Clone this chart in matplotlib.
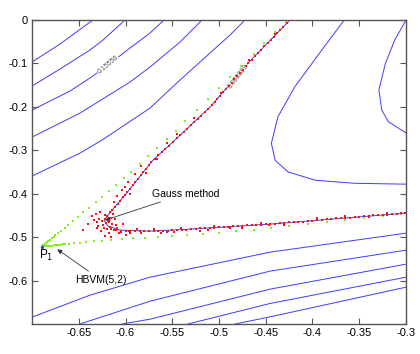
import matplotlib
matplotlib.use("Agg")
import matplotlib.pyplot as plt

plt.rcParams['font.family'] = ['Liberation Sans Narrow', 'Liberation Sans', 'DejaVu Sans']
plt.rcParams['axes.unicode_minus'] = False

# level curves
c1_x = [-0.700, -0.6701, -0.6348]
c1_y = [-0.0968, -0.0553, 0.0]
c2_x = [-0.700, -0.6701, -0.638, -0.6241, -0.6005]
c2_y = [-0.1521, -0.1129, -0.0691, -0.0461, 0.0]
c3_x = [-0.700, -0.6594, -0.638, -0.6187, -0.5952, -0.5738, -0.5588]
c3_y = [-0.2074, -0.1636, -0.1336, -0.1037, -0.0645, -0.030, 0.0]
c4_x = [-0.700, -0.6487, -0.5952, -0.5738, -0.5417, -0.5182]
c4_y = [-0.2696, -0.2143, -0.1429, -0.1083, -0.0507, 0.0]
c5_x = [-0.700, -0.6487, -0.6251, -0.5738, -0.5417, -0.5096, -0.4882, -0.4722]
c5_y = [-0.3594, -0.3065, -0.2765, -0.2028, -0.1382, -0.076, -0.0346, 0.0]

sep_x = [-0.4241, -0.4668, -0.5096, -0.5471, -0.5706, -0.5877, -0.6005, -0.6144,
         -0.6230, -0.6187, -0.6059, -0.5738, -0.5310, -0.4455, -0.300]
sep_y = [0.0, -0.0945, -0.2005, -0.2765, -0.3226, -0.3687, -0.4032, -0.4378,
         -0.4608, -0.4747, -0.4839, -0.4862, -0.4816, -0.4700, -0.4447]

a_x = [-0.366, -0.390, -0.419, -0.437, -0.444, -0.440, -0.426, -0.397, -0.355, -0.300]
a_y = [0.0, -0.069, -0.154, -0.223, -0.284, -0.323, -0.350, -0.369, -0.376, -0.378]
b_x = [-0.300, -0.312, -0.322, -0.329, -0.326, -0.319, -0.300]
b_y = [0.0, -0.046, -0.100, -0.161, -0.207, -0.234, -0.260]

l1_x = [-0.700, -0.638, -0.5738, -0.4455, -0.300]
l1_y = [-0.6843, -0.6336, -0.5922, -0.5346, -0.4908]
l2_x = [-0.6487, -0.5738, -0.4455, -0.300]
l2_y = [-0.700, -0.6475, -0.5783, -0.530]
l3_x = [-0.6037, -0.5738, -0.4455, -0.300]
l3_y = [-0.700, -0.6889, -0.6198, -0.5622]
l4_x = [-0.5332, -0.4455, -0.300]
l4_y = [-0.700, -0.6528, -0.5922]
l5_x = [-0.4829, -0.4455, -0.300]
l5_y = [-0.700, -0.6836, -0.6152]

# HBVM(5,2) points
hb_x = [-0.689, -0.688, -0.687, -0.686, -0.685, -0.684, -0.683, -0.682, -0.681, -0.679,
        -0.677, -0.675, -0.672, -0.669, -0.665, -0.661, -0.656, -0.651, -0.645, -0.639,
        -0.632, -0.625, -0.618, -0.610, -0.602, -0.594, -0.585, -0.576, -0.566, -0.556,
        -0.546, -0.536, -0.524, -0.512, -0.500, -0.488, -0.476, -0.463, -0.452, -0.440,
        -0.428,
        -0.687, -0.685, -0.683, -0.681, -0.679, -0.677, -0.675, -0.673, -0.671, -0.669,
        -0.667, -0.665, -0.660, -0.655, -0.649, -0.642, -0.634, -0.625, -0.615, -0.604,
        -0.592, -0.579, -0.565, -0.550, -0.534, -0.517, -0.500, -0.482, -0.463, -0.444,
        -0.425, -0.405, -0.385, -0.365, -0.345, -0.325, -0.305]
hb_y = [-0.521, -0.519, -0.517, -0.516, -0.514, -0.512, -0.510, -0.509, -0.507, -0.503,
        -0.500, -0.496, -0.491, -0.486, -0.479, -0.472, -0.463, -0.454, -0.443, -0.432,
        -0.420, -0.407, -0.394, -0.379, -0.364, -0.349, -0.332, -0.313, -0.294, -0.275,
        -0.255, -0.233, -0.208, -0.183, -0.157, -0.131, -0.105, -0.078, -0.052, -0.027,
        -0.004,
        -0.5215, -0.521, -0.5205, -0.520, -0.5195, -0.519, -0.5185, -0.518, -0.5175, -0.517,
        -0.5165, -0.516, -0.515, -0.514, -0.513, -0.512, -0.510, -0.508, -0.506, -0.505,
        -0.503, -0.501, -0.499, -0.497, -0.495, -0.493, -0.490, -0.487, -0.483, -0.479,
        -0.475, -0.470, -0.465, -0.461, -0.456, -0.451, -0.446]

# Gauss method points: upper branch
gu_x = [-0.4245, -0.4278, -0.4312, -0.4345, -0.4380, -0.4413, -0.4447, -0.4480, -0.4515,
        -0.4548, -0.4582, -0.4616, -0.4650, -0.4685, -0.4715, -0.4746, -0.4776, -0.4806,
        -0.4836, -0.4866, -0.4896, -0.4927, -0.4957, -0.4987, -0.5017, -0.5048, -0.5078,
        -0.5118, -0.5155, -0.5192, -0.5229, -0.5266, -0.5303, -0.5340, -0.5377, -0.5414,
        -0.5451, -0.5497, -0.5536, -0.5574, -0.5612, -0.5650, -0.5688, -0.5725, -0.5753,
        -0.5781, -0.5809, -0.5837, -0.5865, -0.5897, -0.5925, -0.5953, -0.5981, -0.6005,
        -0.6025, -0.6055, -0.6085, -0.6115, -0.6144, -0.6165, -0.6195, -0.6220,
        -0.583, -0.590, -0.597, -0.604, -0.609, -0.612, -0.5265, -0.545, -0.556, -0.498,
        -0.468, -0.440, -0.578, -0.595, -0.566, -0.601]
gu_y = [-0.001, -0.008, -0.016, -0.023, -0.031, -0.038, -0.046, -0.053, -0.061,
        -0.068, -0.076, -0.083, -0.091, -0.099, -0.106, -0.114, -0.121, -0.129,
        -0.136, -0.144, -0.151, -0.159, -0.166, -0.174, -0.181, -0.189, -0.196,
        -0.205, -0.212, -0.220, -0.227, -0.235, -0.242, -0.250, -0.257, -0.265,
        -0.272, -0.282, -0.289, -0.297, -0.304, -0.312, -0.319, -0.328, -0.335,
        -0.343, -0.350, -0.358, -0.365, -0.374, -0.381, -0.389, -0.396, -0.403,
        -0.408, -0.416, -0.423, -0.431, -0.438, -0.443, -0.451, -0.458,
        -0.337, -0.355, -0.372, -0.392, -0.405, -0.418, -0.226, -0.262, -0.283, -0.168,
        -0.093, -0.033, -0.352, -0.400, -0.320, -0.385]

# Gauss method points: scatter round the corner
gc_x = [-0.636, -0.632, -0.628, -0.630, -0.625, -0.621, -0.619, -0.624, -0.617, -0.614,
        -0.620, -0.626, -0.612, -0.618, -0.609, -0.622, -0.615, -0.607, -0.631, -0.640,
        -0.645, -0.611, -0.603, -0.616, -0.627, -0.622, -0.613, -0.605, -0.600, -0.596,
        -0.634, -0.629, -0.623, -0.618, -0.610]
gc_y = [-0.452, -0.447, -0.458, -0.466, -0.463, -0.468, -0.462, -0.472, -0.476, -0.470,
        -0.481, -0.486, -0.484, -0.490, -0.479, -0.497, -0.499, -0.491, -0.478, -0.470,
        -0.483, -0.458, -0.470, -0.455, -0.441, -0.450, -0.446, -0.488, -0.495, -0.485,
        -0.461, -0.474, -0.479, -0.466, -0.473]

# Gauss method points: lower branch
gl_x = [-0.615, -0.610, -0.605, -0.600, -0.595, -0.590, -0.585, -0.580, -0.575, -0.570,
        -0.565, -0.560, -0.555, -0.550, -0.545, -0.540, -0.535, -0.530, -0.525, -0.520,
        -0.515, -0.510, -0.505, -0.500, -0.495, -0.490, -0.485, -0.480, -0.475, -0.470,
        -0.465, -0.460, -0.455, -0.450, -0.445, -0.440, -0.435, -0.430, -0.425, -0.420,
        -0.415, -0.410, -0.405, -0.400, -0.395, -0.390, -0.385, -0.380, -0.375, -0.370,
        -0.365, -0.360, -0.355, -0.350, -0.345, -0.340, -0.335, -0.330, -0.325, -0.320,
        -0.315, -0.310, -0.305, -0.301,
        -0.595, -0.583, -0.570, -0.556, -0.541, -0.520, -0.505, -0.475, -0.455, -0.430,
        -0.395, -0.365, -0.340, -0.320, -0.588, -0.562, -0.548, -0.512, -0.488, -0.447]
gl_y = [-0.482, -0.484, -0.485, -0.486, -0.486, -0.487, -0.486, -0.487, -0.486, -0.486,
        -0.485, -0.486, -0.485, -0.484, -0.484, -0.483, -0.483, -0.481, -0.481, -0.480,
        -0.479, -0.479, -0.478, -0.477, -0.477, -0.476, -0.475, -0.475, -0.474, -0.473,
        -0.473, -0.472, -0.471, -0.470, -0.470, -0.469, -0.468, -0.467, -0.466, -0.465,
        -0.464, -0.464, -0.463, -0.462, -0.461, -0.460, -0.459, -0.458, -0.457, -0.456,
        -0.456, -0.455, -0.454, -0.453, -0.452, -0.451, -0.450, -0.449, -0.448, -0.448,
        -0.447, -0.446, -0.445, -0.444,
        -0.491, -0.490, -0.482, -0.489, -0.480, -0.485, -0.474, -0.479, -0.468, -0.471,
        -0.457, -0.452, -0.454, -0.445, -0.481, -0.490, -0.488, -0.484, -0.480, -0.473]

p1 = (-0.6896, -0.5223)

xticks = [-0.65, -0.6, -0.55, -0.5, -0.45, -0.4, -0.35, -0.3]
xticklabels = ['-0.65', '-0.6', '-0.55', '-0.5', '-0.45', '-0.4', '-0.35', '-0.3']
yticks = [0, -0.1, -0.2, -0.3, -0.4, -0.5, -0.6]
yticklabels = ['0', '-0.1', '-0.2', '-0.3', '-0.4', '-0.5', '-0.6']

fig = plt.figure(figsize=(4.2, 3.54), dpi=100)
ax = fig.add_axes([32/420, 30/354, 374/420, 304/354])

blue = '#3c3cff'
for xs, ys in [(c1_x, c1_y), (c2_x, c2_y), (c3_x, c3_y), (c4_x, c4_y), (c5_x, c5_y),
               (sep_x, sep_y), (a_x, a_y), (b_x, b_y),
               (l1_x, l1_y), (l2_x, l2_y), (l3_x, l3_y), (l4_x, l4_y), (l5_x, l5_y)]:
    ax.plot(xs, ys, color=blue, lw=0.7, zorder=1)

ax.text(-0.6187, -0.1037, '0.15556', fontsize=5, color='#555555', rotation=40,
        ha='center', va='center', zorder=2,
        bbox=dict(facecolor='white', edgecolor='none', pad=0.3))
ax.text(-0.479, -0.131, '0.088889', fontsize=5, color='#555555', rotation=52,
        ha='center', va='center', zorder=2,
        bbox=dict(facecolor='white', edgecolor='none', pad=0.3))

ax.plot(hb_x, hb_y, ls='none', marker='s', ms=1.7, mew=0, color='#80f020', zorder=3)
for xs, ys in [(gu_x, gu_y), (gc_x, gc_y), (gl_x, gl_y)]:
    ax.plot(xs, ys, ls='none', marker='s', ms=1.8, mew=0, color='#ff1010', zorder=4)
ax.plot([p1[0]], [p1[1]], ls='none', marker='o', ms=2.5, mew=0, color='#3c3cff', zorder=5)

ax.annotate('Gauss method', xy=(-0.622, -0.461), xytext=(-0.572, -0.400),
            fontsize=7.5, va='center', ha='left',
            arrowprops=dict(arrowstyle='-|>', color='#333333', lw=0.6,
                            mutation_scale=7, shrinkA=1, shrinkB=0))
ax.annotate('HBVM(5,2)', xy=(-0.673, -0.528), xytext=(-0.654, -0.598),
            fontsize=7.5, va='center', ha='left',
            arrowprops=dict(arrowstyle='-|>', color='#333333', lw=0.6,
                            mutation_scale=7, shrinkA=1, shrinkB=0))
ax.text(-0.693, -0.542, 'P$_{1}$', fontsize=8.5, va='center', ha='left')

ax.set_xlim(-0.7, -0.3)
ax.set_ylim(-0.7, 0)
ax.set_xticks(xticks)
ax.set_xticklabels(xticklabels)
ax.set_yticks(yticks)
ax.set_yticklabels(yticklabels)
ax.tick_params(direction='in', length=4, width=0.8, color='#555555',
               top=True, right=True, labelsize=8, pad=3)
for s in ax.spines.values():
    s.set_color('#555555')
    s.set_linewidth(1.0)

fig.savefig('out.png', dpi=100)
